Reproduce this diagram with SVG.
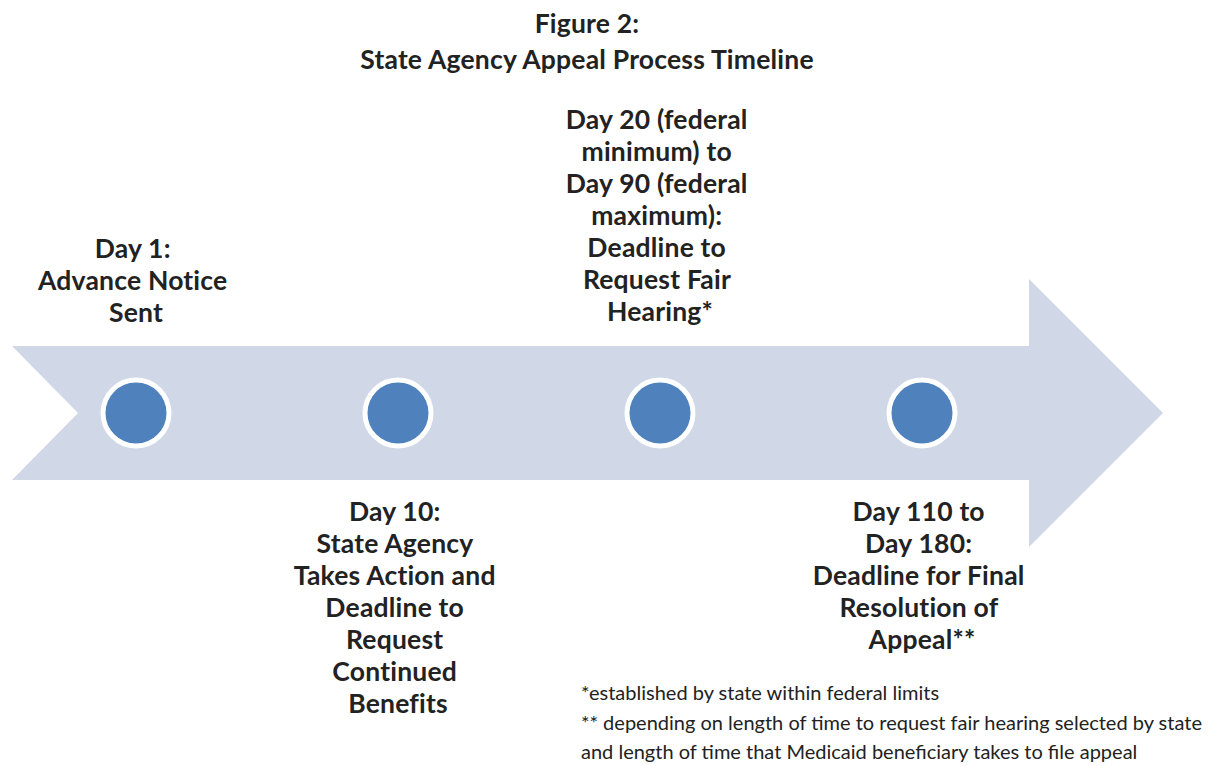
<svg xmlns="http://www.w3.org/2000/svg" width="1208" height="766" viewBox="0 0 1208 766">
  <style>
    .title { font-family: "Lato", "Open Sans", sans-serif; font-weight: bold; font-size: 26.5px; fill: #222; text-anchor: middle; letter-spacing: 0.2px; }
    .label { font-family: "Lato", "Open Sans", sans-serif; font-weight: bold; font-size: 26.5px; fill: #222; text-anchor: middle; letter-spacing: 0.2px; }
    .note { font-family: "Lato", "Open Sans", sans-serif; font-size: 20px; fill: #222; }
    .dot { fill: #4F81BD; stroke: #FFFFFF; stroke-width: 5; }
  </style>
  <rect width="1208" height="766" fill="#FFFFFF"/>

  <g id="title">
    <text class="title" x="587" y="33">Figure 2:</text>
    <text class="title" x="587" y="69">State Agency Appeal Process Timeline</text>
  </g>

  <!-- timeline arrow -->
  <g id="connectors">
    <polygon points="12,346 1029,346 1029,279 1163,413 1029,547 1029,480 12,480 78,413" fill="#D0D8E8"/>
  </g>

  <g id="day1">
    <circle class="dot" cx="136" cy="413" r="33"/>
    <text class="label">
      <tspan x="136" y="258">Day 1:</tspan>
      <tspan x="136" y="290">Advance Notice</tspan>
      <tspan x="136" y="322">Sent</tspan>
    </text>
  </g>

  <g id="day10">
    <circle class="dot" cx="398" cy="413" r="33"/>
    <text class="label">
      <tspan x="398" y="521">Day 10:</tspan>
      <tspan x="398" y="553">State Agency</tspan>
      <tspan x="398" y="585">Takes Action and</tspan>
      <tspan x="398" y="617">Deadline to</tspan>
      <tspan x="398" y="649">Request</tspan>
      <tspan x="398" y="681">Continued</tspan>
      <tspan x="398" y="713">Benefits</tspan>
    </text>
  </g>

  <g id="day20">
    <circle class="dot" cx="660" cy="413" r="33"/>
    <text class="label">
      <tspan x="660" y="129">Day 20 (federal</tspan>
      <tspan x="660" y="161">minimum) to</tspan>
      <tspan x="660" y="193">Day 90 (federal</tspan>
      <tspan x="660" y="225">maximum):</tspan>
      <tspan x="660" y="257">Deadline to</tspan>
      <tspan x="660" y="289">Request Fair</tspan>
      <tspan x="660" y="321">Hearing*</tspan>
    </text>
  </g>

  <g id="day110">
    <circle class="dot" cx="922" cy="413" r="33"/>
    <text class="label">
      <tspan x="922" y="521">Day 110 to</tspan>
      <tspan x="922" y="553">Day 180:</tspan>
      <tspan x="922" y="585">Deadline for Final</tspan>
      <tspan x="922" y="617">Resolution of</tspan>
      <tspan x="922" y="649">Appeal**</tspan>
    </text>
  </g>

  <g id="notes">
    <text class="note" x="581" y="700">*established by state within federal limits</text>
    <text class="note" x="581" y="730">** depending on length of time to request fair hearing selected by state</text>
    <text class="note" x="581" y="759">and length of time that Medicaid beneficiary takes to file appeal</text>
  </g>
</svg>
